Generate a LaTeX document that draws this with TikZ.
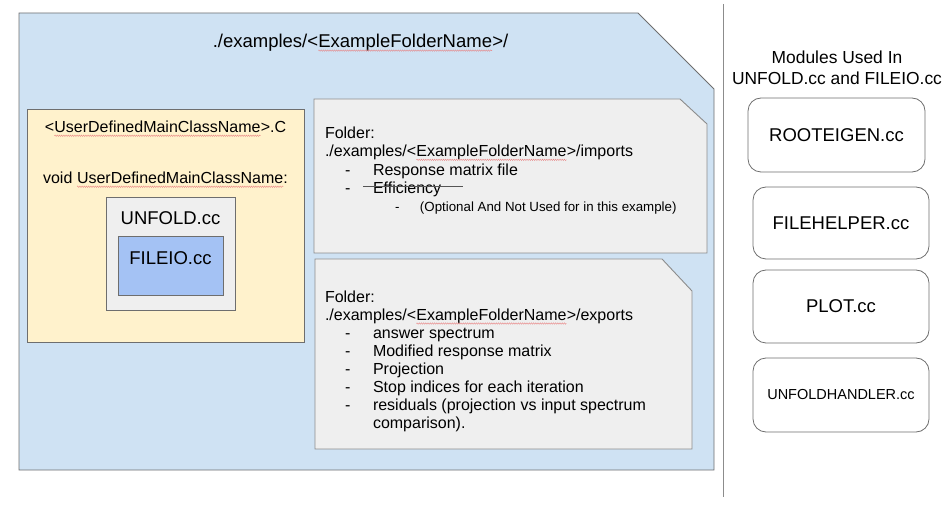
\documentclass[tikz,border=0pt]{standalone}
\usepackage{fontspec}
\setmainfont{Liberation Sans}
\usetikzlibrary{decorations.pathmorphing}
\definecolor{bluefill}{HTML}{CFE2F3}
\definecolor{yellowfill}{HTML}{FFF2CC}
\definecolor{grayfill}{HTML}{EFEFEF}
\definecolor{filefill}{HTML}{A4C2F4}
\definecolor{edgegray}{HTML}{6E6E6E}
\definecolor{lightedge}{HTML}{8C8C8C}
\definecolor{strikegray}{HTML}{555555}
\definecolor{squigred}{HTML}{E88080}
\tikzset{
  sqline/.style={squigred,line width=0.35pt,decorate,decoration={snake,amplitude=0.75pt,segment length=2.2pt}},
  bluebox/.style={draw=edgegray,fill=bluefill,line width=0.9pt},
  folderbox/.style={draw=lightedge,fill=grayfill,line width=0.9pt},
  yellowbox/.style={draw=edgegray,fill=yellowfill,line width=0.9pt},
  unfoldbox/.style={draw=edgegray,fill=grayfill,line width=0.9pt},
  fileiobox/.style={draw=edgegray,fill=filefill,line width=0.9pt},
  modbox/.style={draw=edgegray,fill=white,line width=0.8pt,rounded corners=13pt,minimum width=176pt,minimum height=73pt,inner sep=0pt,font=\fontsize{18.5}{22}\selectfont},
  plain/.style={inner sep=0pt,outer sep=0pt},
  strike/.style={draw=strikegray,line width=1.6pt},
  sep/.style={draw=lightedge,line width=0.9pt}
}
\newcommand{\sq}[1]{\tikz[baseline=(sqw.base)]{\node[inner sep=0pt,outer sep=0pt,anchor=base](sqw){#1};\draw[sqline]([yshift=-2.8pt]sqw.base west)--([yshift=-2.8pt]sqw.base east);}}
\newcommand{\bl}[1]{\makebox[48pt][l]{\hspace*{20pt}-}#1}
\begin{document}
\begin{tikzpicture}[x=1pt,y=-1pt]
\useasboundingbox (0,0) rectangle (947,510);
% main folder
\draw[bluebox] (19,13) -- (638,13) -- (714,89) -- (714,470) -- (19,470) -- cycle;
\node[plain,font=\fontsize{18.5}{22}\selectfont] (title) at (360.5,43) {./examples/<\sq{ExampleFolderName}>/};
% main class
\draw[yellowbox] (27,109) rectangle (304,342);
\node[plain,font=\fontsize{16}{19}\selectfont] (mainc) at (165.5,129) {<\sq{UserDefinedMainClassName}>.C};
\node[plain,font=\fontsize{16}{19}\selectfont] (voidm) at (165.5,180) {void \sq{UserDefinedMainClassName}:};
\draw[unfoldbox] (106,197) rectangle (235,310);
\node[plain,font=\fontsize{18.5}{22}\selectfont] (unfold) at (170.5,218) {UNFOLD.cc};
\draw[fileiobox] (118,236) rectangle (223,295);
\node[plain,font=\fontsize{18.5}{22}\selectfont] (fileio) at (170.5,258) {FILEIO.cc};
% imports
\draw[folderbox] (314,99) -- (680,99) -- (707,124) -- (707,253) -- (314,253) -- cycle;
\node[plain,anchor=north west,align=left,font=\fontsize{16}{18.3}\selectfont] (imports) at (325,126.7)
 {\rule{0pt}{12pt}Folder:\\
  ./examples/<\sq{ExampleFolderName}>/imports\\
  \bl{Response matrix file}\\
  \bl{Efficiency}\\
  \makebox[95pt][l]{\hspace*{70pt}{\fontsize{13.3}{18.3}\selectfont -}}{\fontsize{13.3}{18.3}\selectfont (Optional And Not Used for in this example)}};
\draw[strike] (363,186.5) -- (463,186.5);
% exports
\draw[folderbox] (315,259) -- (662,259) -- (692,291) -- (692,449) -- (315,449) -- cycle;
\node[plain,anchor=north west,align=left,font=\fontsize{16}{18}\selectfont] (exports) at (325,290.7)
 {\rule{0pt}{12pt}Folder:\\
  ./examples/<\sq{ExampleFolderName}>/exports\\
  \bl{answer spectrum}\\
  \bl{Modified response matrix}\\
  \bl{Projection}\\
  \bl{Stop indices for each iteration}\\
  \bl{residuals (projection vs input spectrum}\\
  \makebox[48pt][l]{}comparison).};
% separator
\draw[sep] (723,4) -- (723,497);
% modules
\node[plain,align=center,font=\fontsize{17.4}{21}\selectfont] (modtitle) at (837,67.5) {Modules Used In\\UNFOLD.cc and FILEIO.cc};
\node[modbox,minimum width=177pt,minimum height=74pt] (rooteigen) at (836.5,135) {ROOTEIGEN.cc};
\node[modbox,minimum height=72pt] (filehelper) at (841,223) {FILEHELPER.cc};
\node[modbox] (plot) at (841,306.5) {PLOT.cc};
\node[modbox,minimum height=74pt,font=\fontsize{14.5}{18}\selectfont] (unfoldhandler) at (841,395) {UNFOLDHANDLER.cc};
\end{tikzpicture}
\end{document}
